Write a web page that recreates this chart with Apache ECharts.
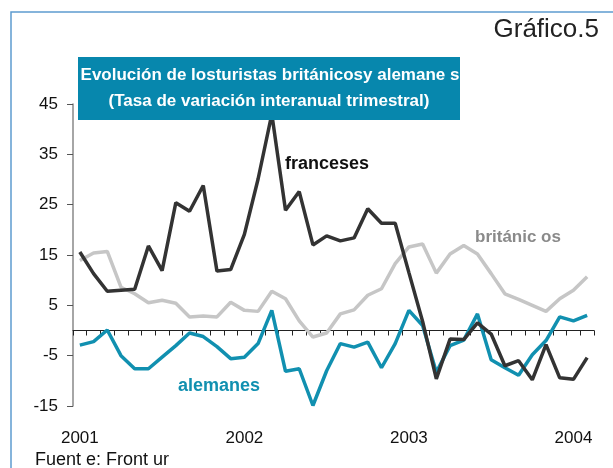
<!DOCTYPE html>
<html>
<head>
<meta charset="utf-8">
<script src="https://cdn.jsdelivr.net/npm/echarts@6/dist/echarts.min.js"></script>
<style>
html, body { margin: 0; padding: 0; background: #fff; }
#main { width: 613px; height: 468px; }
</style>
</head>
<body>
<div id="main"></div>
<script>
// meses ene-2001 .. feb-2004
var meses = [
    'ene-01', 'feb-01', 'mar-01', 'abr-01', 'may-01', 'jun-01', 'jul-01', 'ago-01', 'sep-01', 'oct-01', 'nov-01', 'dic-01',
    'ene-02', 'feb-02', 'mar-02', 'abr-02', 'may-02', 'jun-02', 'jul-02', 'ago-02', 'sep-02', 'oct-02', 'nov-02', 'dic-02',
    'ene-03', 'feb-03', 'mar-03', 'abr-03', 'may-03', 'jun-03', 'jul-03', 'ago-03', 'sep-03', 'oct-03', 'nov-03', 'dic-03',
    'ene-04', 'feb-04'
];
var franceses = [15.6, 11.3, 7.8, 8.0, 8.2, 16.8, 11.9, 25.4, 23.7, 28.8, 11.8, 12.1,
    19.1, 30.1, 43.0, 23.9, 27.6, 17.0, 18.8, 17.8, 18.4, 24.2, 21.3, 21.3,
    11.5, 1.8, -9.6, -1.7, -1.8, 1.5, -0.7, -7.0, -6.0, -9.8, -2.8, -9.4,
    -9.7, -5.4];
var britanicos = [13.9, 15.4, 15.7, 8.6, 7.3, 5.5, 6.0, 5.4, 2.7, 2.9, 2.7, 5.6,
    4.0, 3.8, 7.8, 6.3, 1.9, -1.3, -0.5, 3.3, 4.1, 7.0, 8.3, 13.3,
    16.6, 17.2, 11.4, 15.2, 16.9, 15.2, 11.3, 7.3, 6.2, 5.0, 3.8, 6.3,
    8.0, 10.7];
var alemanes = [-2.9, -2.2, 0.1, -5.0, -7.6, -7.6, -5.3, -3.0, -0.5, -1.2, -3.2, -5.6,
    -5.3, -2.6, 4.0, -8.1, -7.6, -14.9, -8.0, -2.6, -3.3, -2.3, -7.4, -2.6,
    4.0, 1.0, -8.3, -3.0, -1.9, 3.3, -5.8, -7.4, -8.9, -4.8, -2.0, 2.7,
    1.9, 3.0];
var yMin = -15, yMax = 45, yStep = 10;

var azul = '#0787ad';
var font = 'Liberation Sans, Arial, sans-serif';

var myChart = echarts.init(document.getElementById('main'));
var option = {
    animation: false,
    backgroundColor: '#fff',
    grid: {left: 73, right: 19, top: 104, bottom: 62},
    xAxis: [{
        type: 'category',
        data: meses,
        axisLine: {onZero: true, lineStyle: {color: '#222', width: 1}},
        axisTick: {show: true, interval: 0, length: 5, lineStyle: {color: '#222'}},
        axisLabel: {show: false},
        splitLine: {show: false}
    }, {
        type: 'category',
        data: meses,
        position: 'bottom',
        axisLine: {show: false},
        axisTick: {show: false},
        axisLabel: {
            interval: function (i) { return i % 12 === 0; },
            formatter: function (v) { return '20' + v.slice(4); },
            margin: 24, fontSize: 17, color: '#111', fontFamily: font
        },
        splitLine: {show: false}
    }],
    yAxis: {
        type: 'value',
        min: yMin, max: yMax, interval: yStep,
        axisLine: {show: true, lineStyle: {color: '#888', width: 1.5}},
        axisTick: {show: true, length: 6, lineStyle: {color: '#555'}},
        axisLabel: {margin: 15, fontSize: 17, color: '#111', fontFamily: font},
        splitLine: {show: false}
    },
    series: [{
        name: 'británicos', type: 'line', data: britanicos, symbol: 'none',
        lineStyle: {color: '#c6c6c6', width: 3.5}
    }, {
        name: 'alemanes', type: 'line', data: alemanes, symbol: 'none',
        lineStyle: {color: '#1190b0', width: 3.5}
    }, {
        name: 'franceses', type: 'line', data: franceses, symbol: 'none',
        lineStyle: {color: '#333', width: 3.5}
    }],
    graphic: [
        {type: 'rect', z: 0, shape: {x: 11, y: 12, width: 700, height: 500},
            style: {fill: null, stroke: '#5d9ccf', lineWidth: 1.5}},
        {type: 'text', x: 599, y: 30, z: 10,
            style: {text: 'Gráfico.5', fill: '#222', font: '26px ' + font, align: 'right', verticalAlign: 'middle'}},
        {type: 'rect', z: 20, shape: {x: 78, y: 57, width: 382, height: 63}, style: {fill: azul}},
        {type: 'text', x: 270, y: 75, z: 21,
            style: {text: 'Evolución de losturistas británicosy alemane s', fill: '#fff',
                font: 'bold 17px ' + font, align: 'center', verticalAlign: 'middle'}},
        {type: 'text', x: 269, y: 101, z: 21,
            style: {text: '(Tasa de variación interanual trimestral)', fill: '#fff',
                font: 'bold 17px ' + font, align: 'center', verticalAlign: 'middle'}},
        {type: 'text', x: 285, y: 164, z: 10,
            style: {text: 'franceses', fill: '#111', font: 'bold 18px ' + font, verticalAlign: 'middle'}},
        {type: 'text', x: 475, y: 237, z: 10,
            style: {text: 'británic os', fill: '#8a8a8a', font: 'bold 17px ' + font, verticalAlign: 'middle'}},
        {type: 'text', x: 178, y: 386, z: 10,
            style: {text: 'alemanes', fill: '#1190b0', font: 'bold 18px ' + font, verticalAlign: 'middle'}},
        {type: 'text', x: 35, y: 460, z: 10,
            style: {text: 'Fuent e: Front ur', fill: '#111', font: '18px ' + font, verticalAlign: 'middle'}}
    ]
};
myChart.setOption(option);
</script>
</body>
</html>
